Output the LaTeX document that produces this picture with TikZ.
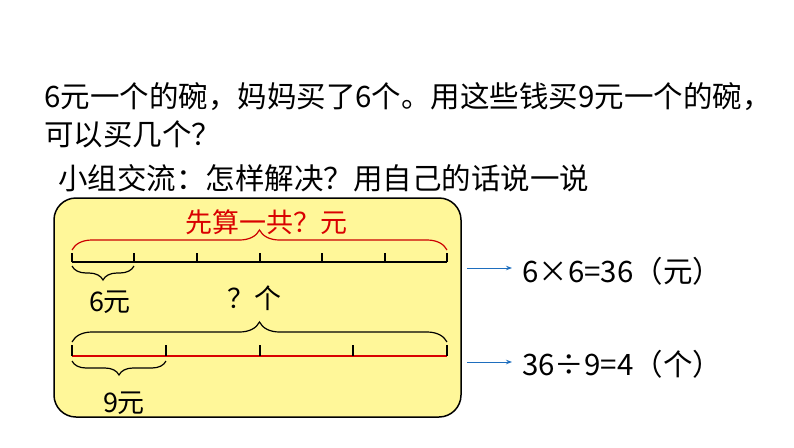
\documentclass[tikz,border=0pt]{standalone}
\usepackage{fontspec}
\setmainfont{Noto Sans CJK SC}
\usetikzlibrary{decorations.pathreplacing,arrows.meta}
\begin{document}
\begin{tikzpicture}[x=1pt,y=-1pt,
  txt/.style={anchor=west,inner sep=0pt,font=\fontsize{29.5}{32}\selectfont},
  lbl/.style={inner sep=0pt,font=\fontsize{27}{29}\selectfont},
  br/.style={decorate,decoration={brace,amplitude=20pt},line width=1.2pt},
  sbr/.style={decorate,decoration={brace,amplitude=14pt},line width=1.2pt},
  arr/.style={-{Stealth[length=6pt]},draw={rgb,255:red,30;green,110;blue,190},line width=1pt}]
\useasboundingbox (0,0) rectangle (794,447);
\definecolor{boxy}{RGB}{255,247,153}
\node[txt] (t1) at (44,97) {6元一个的碗，妈妈买了6个。用这些钱买9元一个的碗，};
\node[txt] (t2) at (44,134) {可以买几个？};
\node[txt] (t3) at (58,178) {小组交流：怎样解决？用自己的话说一说};
\draw[fill=boxy,line width=1.5pt,rounded corners=22pt] (54,198) rectangle (461,417);
% top line
\coordinate (a0) at (72,262); \coordinate (a6) at (447,262);
\draw[line width=1.8pt] (a0) -- (a6);
\foreach \x in {72,134,197,260,322,385,447} \draw[line width=1.3pt] (\x,262) -- (\x,253);
\draw[br,red!80!black] (72,250) -- (447,250);
\node[lbl,text=red!85!black] (q1) at (266,222) {先算一共？元};
\draw[sbr,decoration={mirror}] (72,266) -- (134,266);
\node[lbl] (l6) at (110,302) {6元};
% bottom line
\draw[line width=1.8pt,red!85!black] (72,356) -- (447,356);
\foreach \x in {72,166,260,353,447} \draw[line width=1.3pt] (\x,356) -- (\x,345);
\draw[br] (72,342) -- (447,342);
\node[lbl] (q2) at (254,298) {？个};
\draw[sbr,decoration={mirror}] (72,361) -- (166,361);
\node[lbl] (l9) at (124,403) {9元};
% arrows and results
\node[txt] (r1) at (522,271) {6×6=36（元）};
\node[txt] (r2) at (522,364) {36÷9=4（个）};
\coordinate (s1) at (467,268); \coordinate (e1) at (512,268);
\coordinate (s2) at (467,362); \coordinate (e2) at (512,362);
\draw[arr] (s1) -- (e1);
\draw[arr] (s2) -- (e2);
\end{tikzpicture}
\end{document}
